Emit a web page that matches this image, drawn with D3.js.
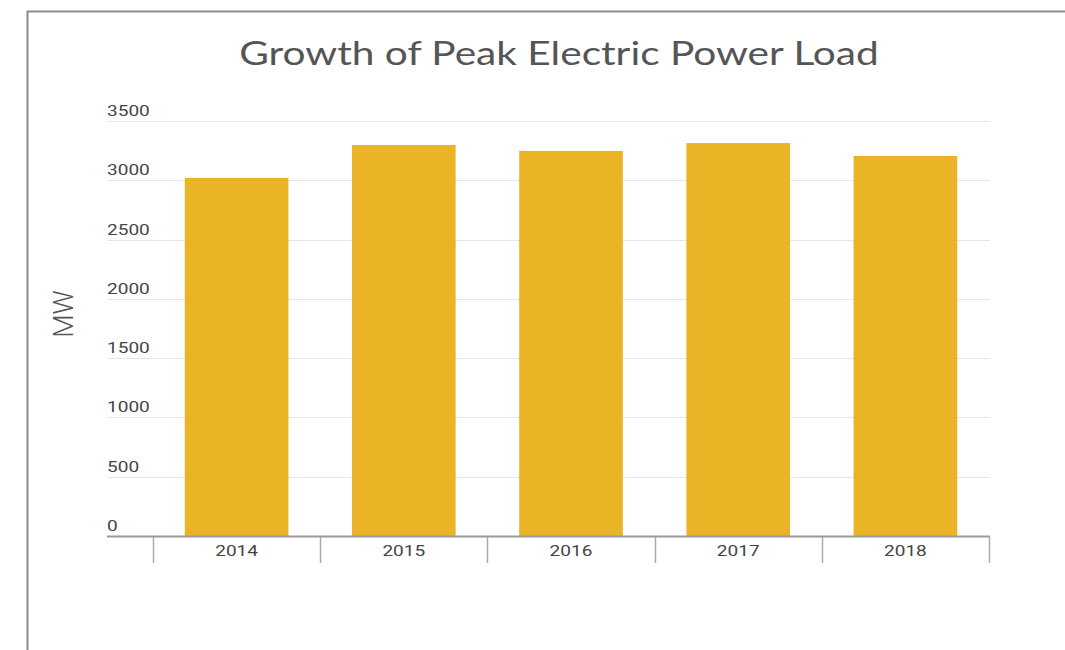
<!DOCTYPE html>
<html>
<head>
<meta charset="utf-8">
<script src="https://cdn.jsdelivr.net/npm/d3@7"></script>
<style>
  body { margin: 0; background: #fff; }
  #chart { width: 1065px; height: 650px; }
</style>
</head>
<body>
<div id="chart"></div>
<script>
// chart data
let years = ["2014", "2015", "2016", "2017", "2018"];
let peakLoad = [3020, 3298, 3248, 3314, 3205];
let yTicks = [0, 500, 1000, 1500, 2000, 2500, 3000, 3500];

let width = 1065, height = 650;
let stretch = 1.27; // the source picture is stretched sideways

let svg = d3.select("#chart").append("svg")
    .attr("width", width)
    .attr("height", height);

// outer frame (only top and left edges show in the window)
svg.append("rect")
    .attr("x", 27.5)
    .attr("y", 11.5)
    .attr("width", 1100)
    .attr("height", 700)
    .attr("fill", "none")
    .attr("stroke", "#8a8a8a")
    .attr("stroke-width", 2);

// title
svg.append("text")
    .attr("transform", "translate(559,65) scale(" + stretch + ",1)")
    .attr("text-anchor", "middle")
    .style("font-family", "Lato")
    .style("font-size", "32px")
    .style("fill", "#555")
    .text("Growth of Peak Electric Power Load");

// scales
let y = d3.scaleLinear()
    .domain([0, 3500])
    .range([536, 121]);

let x = d3.scaleBand()
    .domain(years)
    .range([153, 989])
    .paddingInner(0.38)
    .paddingOuter(0.19);

// gridlines + y labels
let grid = svg.append("g").attr("class", "grid");
grid.selectAll("line")
    .data(yTicks.filter(d => d > 0))
    .enter().append("line")
    .attr("x1", 107)
    .attr("x2", 990)
    .attr("y1", d => Math.round(y(d)) + 0.5)
    .attr("y2", d => Math.round(y(d)) + 0.5)
    .attr("stroke", "#e6e6e6")
    .attr("stroke-width", 1);

grid.selectAll("text")
    .data(yTicks)
    .enter().append("text")
    .attr("transform", d => "translate(107," + (y(d) - 5) + ") scale(" + stretch + ",1)")
    .style("font-family", "Roboto")
    .style("font-size", "15px")
    .style("fill", "#444")
    .text(d => d);

// bars
svg.selectAll(".bar")
    .data(years)
    .enter().append("rect")
    .attr("class", "bar")
    .attr("x", d => x(d))
    .attr("width", x.bandwidth())
    .attr("y", (d, i) => y(peakLoad[i]))
    .attr("height", (d, i) => y(0) - y(peakLoad[i]))
    .attr("fill", "#EBB427");

// x axis baseline
svg.append("line")
    .attr("x1", 107)
    .attr("x2", 990)
    .attr("y1", 536.5)
    .attr("y2", 536.5)
    .attr("stroke", "#999")
    .attr("stroke-width", 2);

// category separators
let step = x.step();
let edges = years.map(d => x(d) - x.paddingOuter() * step).concat([989]);
svg.selectAll(".sep")
    .data(edges)
    .enter().append("line")
    .attr("class", "sep")
    .attr("x1", d => Math.round(d) + 0.5)
    .attr("x2", d => Math.round(d) + 0.5)
    .attr("y1", 537)
    .attr("y2", 563)
    .attr("stroke", "#aaa")
    .attr("stroke-width", 1.5);

// year labels
svg.selectAll(".year")
    .data(years)
    .enter().append("text")
    .attr("class", "year")
    .attr("transform", d => "translate(" + (x(d) + x.bandwidth() / 2) + ",556) scale(" + stretch + ",1)")
    .attr("text-anchor", "middle")
    .style("font-family", "Roboto")
    .style("font-size", "15px")
    .style("fill", "#444")
    .text(d => d);

// y axis title
svg.append("text")
    .attr("transform", "translate(73,314) rotate(-90)")
    .attr("text-anchor", "middle")
    .style("font-family", "Roboto")
    .style("font-weight", 300)
    .style("font-size", "27px")
    .style("fill", "#555")
    .text("MW");
</script>
</body>
</html>
